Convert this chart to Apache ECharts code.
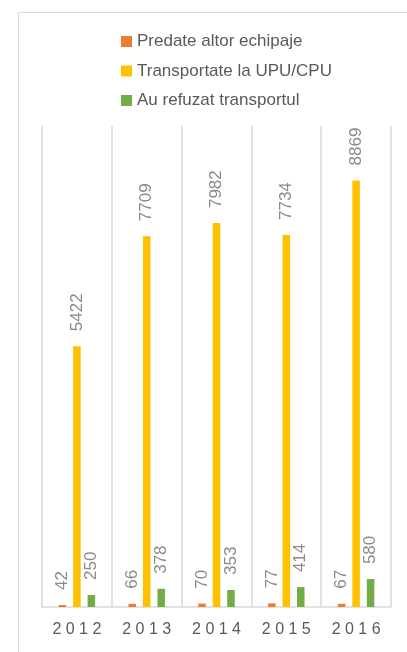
<!DOCTYPE html>
<html>
<head>
<meta charset="utf-8">
<script src="https://cdn.jsdelivr.net/npm/echarts@6/dist/echarts.min.js"></script>
<style>html,body{margin:0;padding:0;background:#fff}#c{width:407px;height:652px}</style>
</head>
<body>
<div id="c"></div>
<script>
var years = ['2012', '2013', '2014', '2015', '2016'];
var seriesNames = ['Predate altor echipaje', 'Transportate la UPU/CPU', 'Au refuzat transportul'];
var predate = [42, 66, 70, 77, 67];
var transportate = [5422, 7709, 7982, 7734, 8869];
var refuzat = [250, 378, 353, 414, 580];
var colors = ['#ED7D31', '#FFC000', '#70AD47'];

var FONT = '"Liberation Sans", Arial, sans-serif';
var chart = echarts.init(document.getElementById('c'));

function mkSeries(name, data, color) {
  return {
    name: name,
    type: 'bar',
    data: data,
    barWidth: 7.5,
    barGap: '93%',
    itemStyle: { color: color },
    label: {
      show: true,
      position: 'top',
      rotate: 90,
      align: 'left',
      verticalAlign: 'middle',
      distance: 15,
      color: '#8a8a8a',
      fontSize: 17,
      fontFamily: FONT
    }
  };
}

chart.setOption({
  animation: false,
  backgroundColor: '#fff',
  graphic: [{
    type: 'rect',
    left: 16, top: 10,
    shape: { width: 420, height: 700 },
    style: { fill: 'none', stroke: '#d9d9d9', lineWidth: 1 },
    silent: true
  }],
  legend: {
    orient: 'vertical',
    left: 116,
    top: 27,
    itemWidth: 11,
    itemHeight: 11,
    itemGap: 10.5,
    icon: 'rect',
    textStyle: { color: '#595959', fontSize: 17, fontFamily: FONT, lineHeight: 19 },
    data: seriesNames
  },
  grid: { left: 42, right: 16, top: 126, bottom: 45 },
  xAxis: {
    type: 'category',
    data: years,
    axisLine: { lineStyle: { color: '#d9d9d9', width: 1.5 } },
    axisTick: { show: false },
    splitLine: { show: true, lineStyle: { color: '#d9d9d9', width: 1.5 } },
    axisLabel: {
      color: '#595959',
      fontSize: 16,
      fontFamily: FONT,
      margin: 15,
      formatter: function (v) { return v.split('').join(' '); }
    }
  },
  yAxis: {
    type: 'value',
    min: 0,
    max: 10000,
    show: false,
    splitLine: { show: false }
  },
  series: [
    mkSeries(seriesNames[0], predate, colors[0]),
    mkSeries(seriesNames[1], transportate, colors[1]),
    mkSeries(seriesNames[2], refuzat, colors[2])
  ]
});
</script>
</body>
</html>
